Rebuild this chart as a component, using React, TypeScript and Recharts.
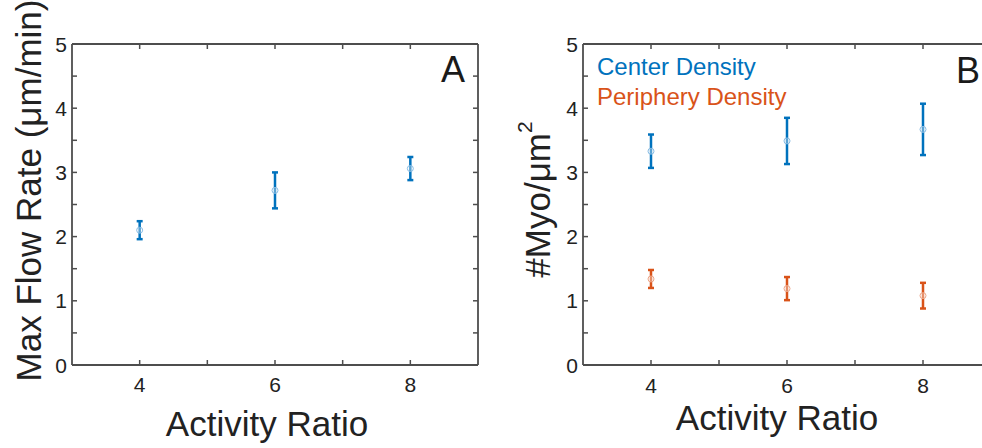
import React from 'react';
import { ScatterChart, Scatter, XAxis, YAxis, ErrorBar, Legend } from 'recharts';

// ---------- data ----------
const activityRatio = [4, 6, 8];
const maxFlowRate = [2.1, 2.72, 3.06];
const maxFlowRateErr = [0.14, 0.28, 0.18];
const centerDensity = [3.33, 3.49, 3.67];
const centerDensityErr = [0.26, 0.36, 0.4];
const peripheryDensity = [1.34, 1.19, 1.08];
const peripheryDensityErr = [0.14, 0.18, 0.2];
const xTicks = [4, 5, 6, 7, 8];
const yTicks = [0, 0.5, 1, 1.5, 2, 2.5, 3, 3.5, 4, 4.5, 5];
const xDomain = [3, 9];
const yDomain = [0, 5];
const seriesNames = ['Center Density', 'Periphery Density'];

const build = (ys: number[], errs: number[]) =>
  activityRatio.map((x, i) => ({ x, y: ys[i], err: errs[i] }));

const flowData = build(maxFlowRate, maxFlowRateErr);
const centerData = build(centerDensity, centerDensityErr);
const peripheryData = build(peripheryDensity, peripheryDensityErr);

// ---------- style ----------
const FONT = '"Liberation Sans", Arial, Helvetica, sans-serif';
const AXIS = '#4d4d4d';
const TXT = '#222222';
const BLUE = '#0072BD';
const ORANGE = '#D95319';
const BLUE_LIGHT = '#86bbe4';
const ORANGE_LIGHT = '#eda587';
const TICK = 5;
const AXIS_W = 1.8;

const BottomTick = (props: any) => {
  const { x, y, payload, labelDy } = props;
  const v = payload.value;
  return (
    <g>
      <line x1={x} x2={x} y1={y} y2={y - TICK} stroke={AXIS} strokeWidth={1.5} />
      {v % 2 === 0 && (
        <text x={x} y={y + labelDy} textAnchor="middle" fontSize={21} fontFamily={FONT} fill={TXT}>
          {v}
        </text>
      )}
    </g>
  );
};

const TopTick = (props: any) => {
  const { x, y } = props;
  return <line x1={x} x2={x} y1={y} y2={y + TICK} stroke={AXIS} strokeWidth={1.5} />;
};

const LeftTick = (props: any) => {
  const { x, y, payload, gap } = props;
  const v = payload.value;
  return (
    <g>
      <line x1={x} x2={x + TICK} y1={y} y2={y} stroke={AXIS} strokeWidth={1.5} />
      {Number.isInteger(v) && (
        <text x={x - gap} y={y} dy="0.36em" textAnchor="end" fontSize={21} fontFamily={FONT} fill={TXT}>
          {v}
        </text>
      )}
    </g>
  );
};

const RightTick = (props: any) => {
  const { x, y } = props;
  return <line x1={x} x2={x - TICK} y1={y} y2={y} stroke={AXIS} strokeWidth={1.5} />;
};

const XTitle = (props: any) => {
  const { viewBox, text, dx, dy } = props;
  if (!viewBox) return null;
  const cx = viewBox.x + viewBox.width / 2 + dx;
  const cy = viewBox.y + dy;
  return (
    <text x={cx} y={cy} textAnchor="middle" fontSize={35} fontFamily={FONT} fill={TXT}>
      {text}
    </text>
  );
};

const YTitle = (props: any) => {
  const { viewBox, fromAxis, dy, text, sup } = props;
  if (!viewBox) return null;
  const cx = viewBox.x + viewBox.width - fromAxis;
  const cy = viewBox.y + viewBox.height / 2 + dy;
  return (
    <text
      x={cx}
      y={cy}
      transform={`rotate(-90 ${cx} ${cy})`}
      textAnchor="middle"
      dominantBaseline="central"
      fontSize={35}
      fontFamily={FONT}
      fill={TXT}
    >
      {text}
      {sup && (
        <tspan dy={-13} fontSize={21}>
          {sup}
        </tspan>
      )}
    </text>
  );
};

const marker = (color: string) => (p: any) =>
  <circle cx={p.cx} cy={p.cy} r={3} fill="rgba(255,255,255,0.35)" stroke={color} strokeWidth={1} />;

type PanelProps = {
  left: number;
  marginLeft: number;
  marginRight: number;
  yTitle: string;
  ySup?: string;
  yTitleFromAxis: number;
  yTitleDy: number;
  yTickGap: number;
  xTitleDx: number;
  xTitleDy: number;
  xTickDy: number;
  children: React.ReactNode;
};

const Panel = (p: PanelProps) => (
  <div style={{ position: 'absolute', left: p.left, top: 0 }}>
    <ScatterChart
      width={500}
      height={448}
      margin={{ top: 43, right: p.marginRight, bottom: 43, left: p.marginLeft }}
    >
      <XAxis
        xAxisId="b"
        dataKey="x"
        type="number"
        domain={xDomain}
        allowDataOverflow
        ticks={xTicks}
        interval={0}
        height={40}
        tickSize={0}
        tickMargin={0}
        tickLine={false}
        axisLine={{ stroke: AXIS, strokeWidth: AXIS_W }}
        tick={<BottomTick labelDy={p.xTickDy} />}
        label={<XTitle text="Activity Ratio" dx={p.xTitleDx} dy={p.xTitleDy} />}
      />
      <XAxis
        xAxisId="t"
        orientation="top"
        dataKey="x"
        type="number"
        domain={xDomain}
        allowDataOverflow
        ticks={xTicks}
        interval={0}
        height={1}
        tickSize={0}
        tickMargin={0}
        tickLine={false}
        axisLine={{ stroke: AXIS, strokeWidth: AXIS_W }}
        tick={<TopTick />}
      />
      <YAxis
        yAxisId="l"
        dataKey="y"
        type="number"
        domain={yDomain}
        allowDataOverflow
        ticks={yTicks}
        interval={0}
        width={50}
        tickSize={0}
        tickMargin={0}
        tickLine={false}
        axisLine={{ stroke: AXIS, strokeWidth: AXIS_W }}
        tick={<LeftTick gap={p.yTickGap} />}
        label={
          <YTitle
            text={p.yTitle}
            sup={p.ySup}
            fromAxis={p.yTitleFromAxis}
            dy={p.yTitleDy}
          />
        }
      />
      <YAxis
        yAxisId="r"
        orientation="right"
        dataKey="y"
        type="number"
        domain={yDomain}
        allowDataOverflow
        ticks={yTicks}
        interval={0}
        width={1}
        tickSize={0}
        tickMargin={0}
        tickLine={false}
        axisLine={{ stroke: AXIS, strokeWidth: AXIS_W }}
        tick={<RightTick />}
      />
      {p.children}
    </ScatterChart>
  </div>
);

const LegendContent = () => (
  <svg width={220} height={64} style={{ display: 'block', overflow: 'visible' }}>
    <text x={2} y={25} fontSize={24} fontFamily={FONT} fill={BLUE}>
      {seriesNames[0]}
    </text>
    <text x={2} y={55} fontSize={24} fontFamily={FONT} fill={ORANGE}>
      {seriesNames[1]}
    </text>
  </svg>
);

export default function App() {
  return (
    <div
      style={{
        position: 'absolute',
        left: 0,
        top: 0,
        width: 982,
        height: 448,
        overflow: 'hidden',
        background: '#ffffff',
      }}
    >
      <Panel
        left={0}
        marginLeft={22}
        marginRight={21}
        yTitle="Max Flow Rate (μm/min)"
        yTitleFromAxis={44}
        yTitleDy={-14}
        yTickGap={5}
        xTitleDx={-8}
        xTitleDy={71}
        xTickDy={27}
      >
        <Scatter
          name="Max Flow Rate"
          data={flowData}
          xAxisId="b"
          yAxisId="l"
          shape={marker(BLUE_LIGHT)}
          isAnimationActive={false}
        >
          <ErrorBar dataKey="err" direction="y" width={3} strokeWidth={2.5} stroke={BLUE} />
        </Scatter>
      </Panel>
      <Panel
        left={500}
        marginLeft={33}
        marginRight={8}
        yTitle="#Myo/μm"
        ySup="2"
        yTitleFromAxis={46}
        yTitleDy={-5}
        yTickGap={5}
        xTitleDx={-10}
        xTitleDy={65}
        xTickDy={28}
      >
        <Scatter
          name={seriesNames[0]}
          data={centerData}
          xAxisId="b"
          yAxisId="l"
          shape={marker(BLUE_LIGHT)}
          isAnimationActive={false}
        >
          <ErrorBar dataKey="err" direction="y" width={3} strokeWidth={2.5} stroke={BLUE} />
        </Scatter>
        <Scatter
          name={seriesNames[1]}
          data={peripheryData}
          xAxisId="b"
          yAxisId="l"
          shape={marker(ORANGE_LIGHT)}
          isAnimationActive={false}
        >
          <ErrorBar dataKey="err" direction="y" width={3} strokeWidth={2.5} stroke={ORANGE} />
        </Scatter>
        <Legend
          layout="vertical"
          align="center"
          verticalAlign="middle"
          content={<LegendContent />}
          wrapperStyle={{ position: 'absolute', left: 95, top: 50, width: 220, height: 64 }}
        />
      </Panel>
      <svg
        width={982}
        height={448}
        style={{ position: 'absolute', left: 0, top: 0, pointerEvents: 'none' }}
      >
        <text x={441} y={82} fontSize={36} fontFamily={FONT} fill="#1a1a1a">
          A
        </text>
        <text x={956} y={83} fontSize={36} fontFamily={FONT} fill="#1a1a1a">
          B
        </text>
      </svg>
    </div>
  );
}
